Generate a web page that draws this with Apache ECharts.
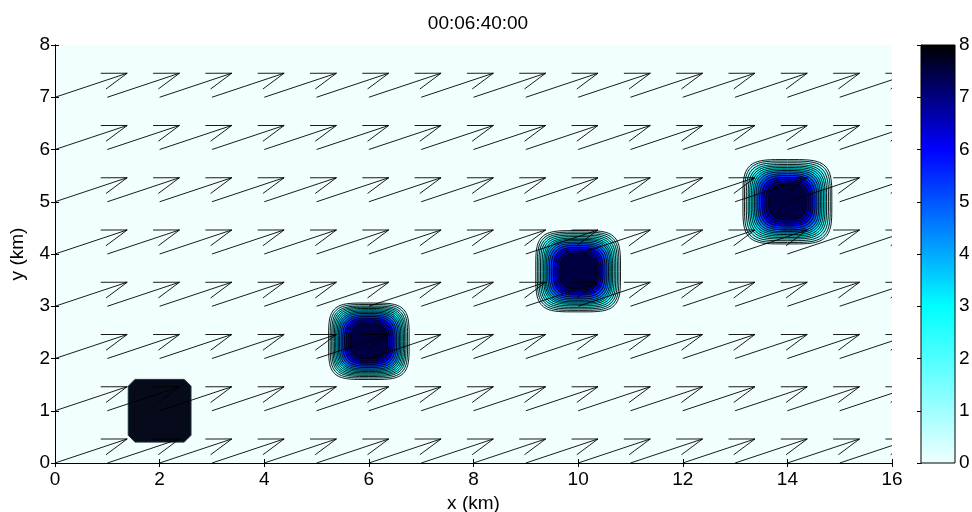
<!DOCTYPE html>
<html>
<head>
<meta charset="utf-8">
<script src="https://cdn.jsdelivr.net/npm/echarts@6/dist/echarts.min.js"></script>
<style>
  html, body { margin: 0; padding: 0; background: #fff; }
  #chart { width: 972px; height: 512px; }
</style>
</head>
<body>
<div id="chart"></div>
<script>
// ---- data ----
const titleText = '00:06:40:00';
const colorbarTicks = [0, 1, 2, 3, 4, 5, 6, 7, 8];

// quiver grid (km) and the uniform wind vector drawn at every node
const arrowX = [0, 1, 2, 3, 4, 5, 6, 7, 8, 9, 10, 11, 12, 13, 14, 15];
const arrowY = [0, 1, 2, 3, 4, 5, 6, 7];
const windU = 1.38;
const windV = 0.46;

// contour levels and the half width (km) of each level line per puff
const contourLevels = [0.5, 1, 1.5, 2, 2.5, 3, 3.5, 4, 4.5, 5, 5.5, 6, 6.5, 7, 7.5];
const puffX = [6.0, 10.0, 14.0];
const puffY = [2.33, 3.67, 5.0];
const puffAspect = [0.95, 0.96, 0.95];
const puffRadiiA = [0.77, 0.74, 0.71, 0.685, 0.66, 0.635, 0.61, 0.585, 0.56, 0.53, 0.50, 0.465, 0.43, 0.395, 0.355];
const puffRadiiB = [0.81, 0.78, 0.75, 0.72, 0.69, 0.66, 0.635, 0.61, 0.58, 0.55, 0.515, 0.475, 0.44, 0.40, 0.355];
const puffRadiiC = [0.85, 0.82, 0.785, 0.75, 0.72, 0.69, 0.66, 0.63, 0.60, 0.565, 0.53, 0.49, 0.45, 0.41, 0.36];
const puffRadii = [puffRadiiA, puffRadiiB, puffRadiiC];

// release box: centre x, centre y, half width, half height (km)
const sourceBox = [2.0, 1.0, 0.6, 0.6];

// colormap anchors
const cmapValues = [0, 3, 6, 8];
const cmapColors = ['#f0ffff', '#00ffff', '#0000ff', '#000000'];

// ---- helpers ----
function hexToRgb(h) {
  return [1, 3, 5].map((i) => parseInt(h.substr(i, 2), 16));
}

function colorAt(v) {
  for (let i = 0; i < cmapValues.length - 1; i++) {
    if (v <= cmapValues[i + 1]) {
      const t = (v - cmapValues[i]) / (cmapValues[i + 1] - cmapValues[i]);
      const a = hexToRgb(cmapColors[i]);
      const b = hexToRgb(cmapColors[i + 1]);
      const c = a.map((x, k) => Math.round(x + (b[k] - x) * t));
      return 'rgb(' + c.join(',') + ')';
    }
  }
  return cmapColors[cmapColors.length - 1];
}

// rounded square outline (superellipse) in data space
function superellipse(cx, cy, a, b, n, api) {
  const pts = [];
  const steps = 96;
  for (let i = 0; i < steps; i++) {
    const t = (i / steps) * Math.PI * 2;
    const c = Math.cos(t);
    const s = Math.sin(t);
    const x = cx + a * Math.sign(c) * Math.pow(Math.abs(c), 2 / n);
    const y = cy + b * Math.sign(s) * Math.pow(Math.abs(s), 2 / n);
    pts.push(api.coord([x, y]));
  }
  return pts;
}

const quiverData = [];
arrowY.forEach((y) => {
  arrowX.forEach((x) => {
    quiverData.push([x, y, windU, windV]);
  });
});

const fontFamily = '"Liberation Sans", Arial, sans-serif';
const labelStyle = {color: '#000', fontSize: 19, fontFamily};

const chart = echarts.init(document.getElementById('chart'), null, {renderer: 'canvas'});

chart.setOption({
  animation: false,
  backgroundColor: '#fff',
  title: {
    text: titleText,
    left: 473,
    top: 9,
    textAlign: 'center',
    textStyle: {color: '#000', fontSize: 19, fontWeight: 'normal', fontFamily},
  },
  grid: [
    {left: 55, top: 45, width: 837, height: 418, show: true, backgroundColor: '#f2ffff', borderWidth: 0, outerBoundsMode: 'none'},
    {left: 921, top: 45, width: 34, height: 418, show: false, outerBoundsMode: 'none'},
  ],
  xAxis: [
    {
      gridIndex: 0, type: 'value', min: 0, max: 16, interval: 2, position: 'bottom',
      name: 'x (km)', nameLocation: 'middle', nameGap: 27,
      nameTextStyle: labelStyle,
      axisLine: {lineStyle: {color: '#000', width: 1}},
      axisTick: {inside: true, length: 4, lineStyle: {color: '#000'}},
      axisLabel: Object.assign({margin: 7}, labelStyle),
      splitLine: {show: false},
    },
    {
      gridIndex: 0, type: 'value', min: 0, max: 16, interval: 2, position: 'top',
      axisLine: {lineStyle: {color: '#000', width: 1}},
      axisTick: {inside: true, length: 4, lineStyle: {color: '#000'}},
      axisLabel: {show: false},
      splitLine: {show: false},
    },
    {gridIndex: 1, type: 'value', min: 0, max: 1, show: false},
  ],
  yAxis: [
    {
      gridIndex: 0, type: 'value', min: 0, max: 8, interval: 1, position: 'left',
      name: 'y (km)', nameLocation: 'middle', nameGap: 28, nameRotate: 90,
      nameTextStyle: labelStyle,
      axisLine: {lineStyle: {color: '#000', width: 1}},
      axisTick: {inside: true, length: 4, lineStyle: {color: '#000'}},
      axisLabel: Object.assign({margin: 5}, labelStyle),
      splitLine: {show: false},
    },
    {
      gridIndex: 0, type: 'value', min: 0, max: 8, interval: 1, position: 'right',
      axisLine: {lineStyle: {color: '#000', width: 1}},
      axisTick: {inside: true, length: 4, lineStyle: {color: '#000'}},
      axisLabel: {show: false},
      splitLine: {show: false},
    },
    {
      gridIndex: 1, type: 'value', min: 0, max: 8, interval: 1, position: 'right',
      axisLine: {lineStyle: {color: '#000', width: 1}},
      axisTick: {inside: true, length: 4, lineStyle: {color: '#000'}},
      axisLabel: Object.assign({margin: 4}, labelStyle),
      splitLine: {show: false},
    },
  ],
  series: [
    {
      // filled contours of the three drifting puffs
      type: 'custom',
      xAxisIndex: 0,
      yAxisIndex: 0,
      z: 2,
      clip: true,
      data: puffX.map((x, i) => [x, puffY[i], i]),
      renderItem(params, api) {
        const i = api.value(2);
        const cx = api.value(0);
        const cy = api.value(1);
        const radii = puffRadii[i];
        const children = radii.map((r, k) => {
          const n = 4.2 - 1.4 * (k / (radii.length - 1));
          return {
            type: 'polygon',
            shape: {points: superellipse(cx, cy, r, r * puffAspect[i], n, api)},
            style: {fill: colorAt(contourLevels[k]), stroke: '#000', lineWidth: 0.9},
          };
        });
        return {type: 'group', children};
      },
    },
    {
      // the release box, saturated at the top level
      type: 'custom',
      xAxisIndex: 0,
      yAxisIndex: 0,
      z: 2,
      data: [sourceBox],
      renderItem(params, api) {
        const cx = api.value(0);
        const cy = api.value(1);
        const hw = api.value(2);
        const hh = api.value(3);
        const cut = 0.13;
        const corners = [
          [cx - hw + cut, cy - hh], [cx + hw - cut, cy - hh], [cx + hw, cy - hh + cut],
          [cx + hw, cy + hh - cut], [cx + hw - cut, cy + hh], [cx - hw + cut, cy + hh],
          [cx - hw, cy + hh - cut], [cx - hw, cy - hh + cut],
        ];
        return {
          type: 'polygon',
          shape: {points: corners.map((p) => api.coord(p))},
          style: {fill: '#060a1a', stroke: '#1c3236', lineWidth: 1},
        };
      },
    },
    {
      // wind quiver
      type: 'custom',
      xAxisIndex: 0,
      yAxisIndex: 0,
      z: 3,
      clip: true,
      data: quiverData,
      renderItem(params, api) {
        const x = api.value(0);
        const y = api.value(1);
        const u = api.value(2);
        const v = api.value(3);
        const alpha = 0.33;
        const beta = 0.33;
        const tail = api.coord([x, y]);
        const tip = api.coord([x + u, y + v]);
        const b1 = api.coord([x + u - alpha * (u + beta * v), y + v - alpha * (v - beta * u)]);
        const b2 = api.coord([x + u - alpha * (u - beta * v), y + v - alpha * (v + beta * u)]);
        const style = {stroke: '#000', lineWidth: 0.9, fill: null};
        return {
          type: 'group',
          children: [
            {type: 'polyline', shape: {points: [tail, tip]}, style},
            {type: 'polyline', shape: {points: [b1, tip, b2]}, style},
          ],
        };
      },
    },
    {
      // colorbar
      type: 'custom',
      xAxisIndex: 2,
      yAxisIndex: 2,
      z: 2,
      data: [[0, colorbarTicks[0], 1, colorbarTicks[colorbarTicks.length - 1]]],
      renderItem(params, api) {
        const p0 = api.coord([api.value(0), api.value(1)]);
        const p1 = api.coord([api.value(2), api.value(3)]);
        const vmax = api.value(3);
        const stops = cmapValues.map((v, i) => ({offset: v / vmax, color: cmapColors[i]}));
        return {
          type: 'rect',
          shape: {x: p0[0], y: p1[1], width: p1[0] - p0[0], height: p0[1] - p1[1]},
          style: {
            fill: new echarts.graphic.LinearGradient(0, 1, 0, 0, stops),
            stroke: '#000',
            lineWidth: 1,
          },
        };
      },
    },
  ],
});
</script>
</body>
</html>
